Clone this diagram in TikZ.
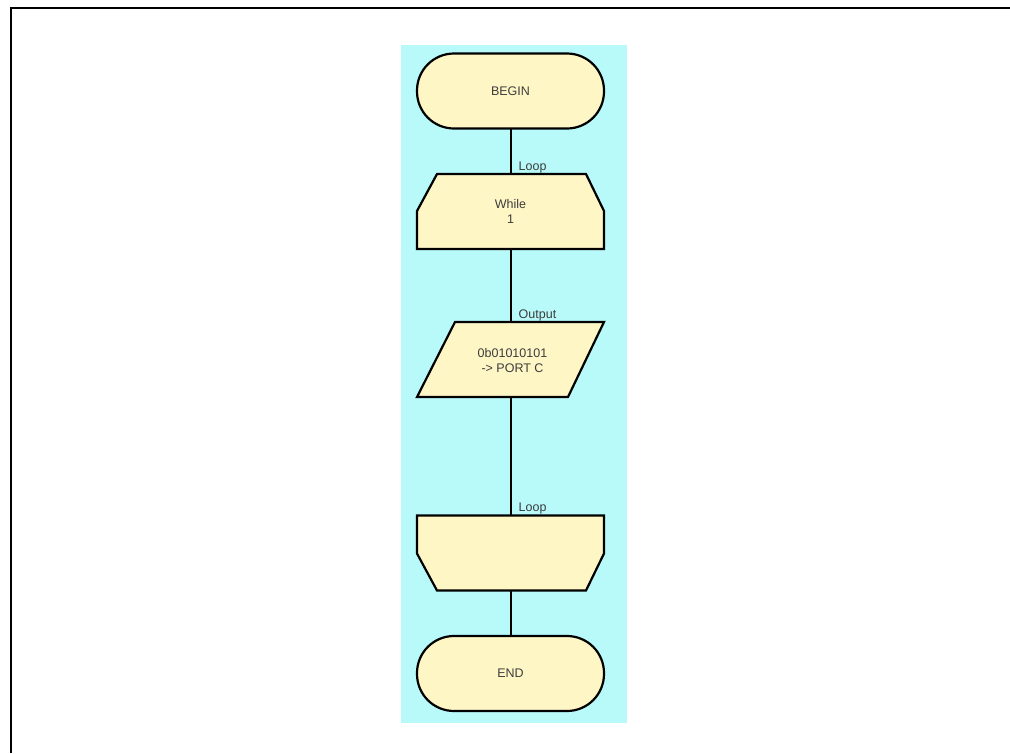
\documentclass[tikz,border=0pt]{standalone}
\usepackage{fontspec}
\setmainfont{Liberation Sans}
\usetikzlibrary{calc}
\definecolor{panel}{RGB}{184,250,250}
\definecolor{blockfill}{RGB}{255,246,198}
\definecolor{inktext}{RGB}{60,60,60}
\tikzset{
  x=1pt, y=-1pt,
  block/.style={minimum width=187pt, minimum height=75pt, inner sep=0pt, outer sep=0pt,
    align=center, text=inktext, font=\fontsize{12.5}{15.5}\selectfont},
  terminal/.style={block, draw, line width=2.2pt, fill=blockfill, rounded corners=37pt},
  outline/.style={draw, line width=2.2pt, fill=blockfill, line join=miter},
  link/.style={line width=2pt},
  tag/.style={anchor=south west, inner sep=0pt, text=inktext,
    font=\fontsize{12.5}{15}\selectfont},
}
\begin{document}
\begin{tikzpicture}
\useasboundingbox (0,0) rectangle (1010,753);
% page frame
\draw[line width=2pt] (11,753) -- (11,7.7) -- (1010,7.7);
% chart panel
\fill[panel] (401,45) rectangle (627,723);

% blocks (text and anchors)
\node[terminal] (begin) at (510.5,91) {BEGIN};
\node[block] (while) at (510.5,211.5) {};
\node[block] (out) at (510.5,359.5) {};
\node[block] (loopend) at (510.5,553) {};
\node[terminal] (end) at (510.5,673.5) {END};

% loop start: top corners cut
\draw[outline] ($(while.north west)+(20,0)$) -- ($(while.north east)+(-18,0)$)
  -- ($(while.north east)+(0,37)$) -- (while.south east) -- (while.south west)
  -- ($(while.north west)+(0,37)$) -- cycle;
% output: parallelogram
\draw[outline] ($(out.north west)+(38,0)$) -- (out.north east)
  -- ($(out.south east)+(-36,0)$) -- (out.south west) -- cycle;
% loop end: bottom corners cut
\draw[outline] (loopend.north west) -- (loopend.north east)
  -- ($(loopend.south east)+(0,-37)$) -- ($(loopend.south east)+(-18,0)$)
  -- ($(loopend.south west)+(20,0)$) -- ($(loopend.south west)+(0,-37)$) -- cycle;

\node[block] at (while.center) {While\\1};
\node[block] at ($(out.center)+(2,1)$) {0b01010101\\-> PORT C};

% connectors
\draw[link] (begin.south) -- (while.north);
\draw[link] (while.south) -- (out.north);
\draw[link] (out.south) -- (loopend.north);
\draw[link] (loopend.south) -- (end.north);

% connector labels
\node[tag] (t1) at ($(while.north)+(8,-1)$) {Loop};
\node[tag] (t2) at ($(out.north)+(8,-1)$) {Output};
\node[tag] (t3) at ($(loopend.north)+(8,-1)$) {Loop};
\end{tikzpicture}
\end{document}
